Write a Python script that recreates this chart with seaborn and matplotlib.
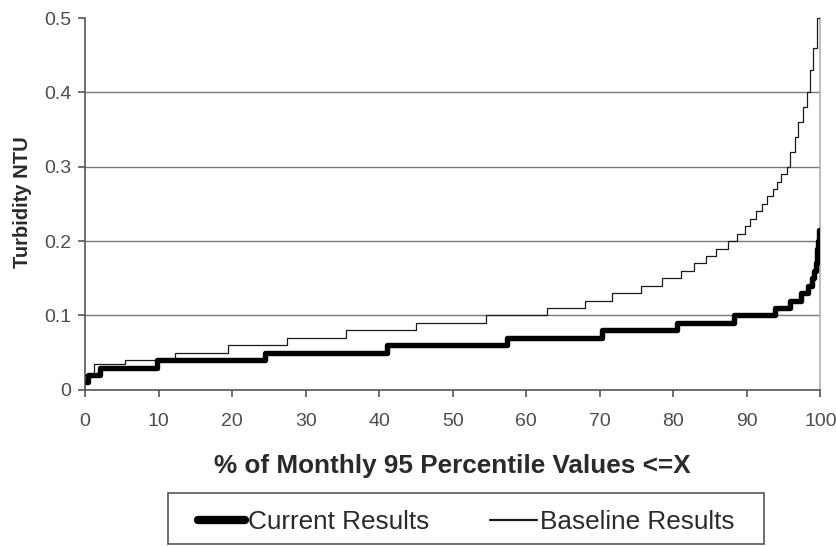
import numpy as np
import pandas as pd
import matplotlib
matplotlib.use("Agg")
import matplotlib.pyplot as plt
from matplotlib.patches import Rectangle
import seaborn as sns

# Cumulative step curves: each level (NTU) starts at the given percentile
current_levels = [0.01, 0.02, 0.03, 0.04, 0.05, 0.06, 0.07, 0.08, 0.09, 0.10,
                  0.11, 0.12, 0.13, 0.14, 0.15, 0.16, 0.17, 0.18, 0.19, 0.20, 0.215]
current_starts = [0.0, 0.4, 2.0, 9.8, 24.5, 41.0, 57.4, 70.3, 80.5, 88.2,
                  93.8, 95.9, 97.4, 98.3, 98.8, 99.2, 99.4, 99.5, 99.6, 99.7, 99.8]

baseline_levels = [0.02, 0.035, 0.04, 0.05, 0.06, 0.07, 0.08, 0.09, 0.10, 0.11,
                   0.12, 0.13, 0.14, 0.15, 0.16, 0.17, 0.18, 0.19, 0.20, 0.21,
                   0.22, 0.23, 0.24, 0.25, 0.26, 0.27, 0.28, 0.29, 0.30, 0.32,
                   0.34, 0.36, 0.38, 0.40, 0.43, 0.46, 0.50]
baseline_starts = [0.0, 1.2, 5.5, 12.3, 19.5, 27.5, 35.5, 45.0, 54.5, 62.8,
                   68.0, 71.6, 75.6, 78.5, 81.0, 82.8, 84.5, 85.8, 87.4, 88.6,
                   89.7, 90.5, 91.3, 92.1, 92.8, 93.5, 94.1, 94.7, 95.4, 95.9,
                   96.5, 97.0, 97.6, 98.2, 98.6, 99.0, 99.5]

x_ticks = [0, 10, 20, 30, 40, 50, 60, 70, 80, 90, 100]
y_ticks = [0, 0.1, 0.2, 0.3, 0.4, 0.5]
y_tick_labels = ["0", "0.1", "0.2", "0.3", "0.4", "0.5"]


def step_frame(starts, levels, name):
    xs = list(starts) + [100.0]
    ys = list(levels) + [levels[-1]]
    return pd.DataFrame({"pct": xs, "ntu": ys, "series": name})


df_cur = step_frame(current_starts, current_levels, "Current Results")
df_base = step_frame(baseline_starts, baseline_levels, "Baseline Results")

sns.set_style("white")
plt.rcParams["font.family"] = ["Liberation Sans", "DejaVu Sans"]

W, H = 837, 546
fig = plt.figure(figsize=(W / 100, H / 100), dpi=100)
ax = fig.add_axes([0.1016, 0.286, 0.8785, 0.681])

grid_col = "#7a7a7a"
for yv in y_ticks[1:-1]:
    ax.axhline(yv, color=grid_col, lw=1.0, zorder=0)

sns.lineplot(data=df_base, x="pct", y="ntu", ax=ax, color="#1a1a1a", lw=0.9,
             drawstyle="steps-post", estimator=None, sort=False,
             label="Baseline Results", legend=False, zorder=3)
sns.lineplot(data=df_cur, x="pct", y="ntu", ax=ax, color="black", lw=3.9,
             drawstyle="steps-post", estimator=None, sort=False,
             label="Current Results", legend=False, solid_capstyle="butt",
             zorder=4)

ax.set_xlim(0, 100)
ax.set_ylim(0, 0.5)
ax.set_xticks(x_ticks)
ax.set_yticks(y_ticks)
ax.set_yticklabels(y_tick_labels)
ax.tick_params(axis="both", which="major", left=True, bottom=True,
               direction="out", length=5, width=1.2, color="#555555",
               labelcolor="#4d4d4d", labelsize=14)
ax.tick_params(axis="x", pad=12)
ax.tick_params(axis="y", pad=5)

for side in ["left", "bottom"]:
    ax.spines[side].set_color("#555555")
    ax.spines[side].set_linewidth(1.2)
ax.spines["right"].set_color("#b0b0b0")
ax.spines["right"].set_linewidth(1.2)
ax.spines["top"].set_visible(False)

ax.set_xlabel("% of Monthly 95 Percentile Values <=X", fontsize=18.8,
              fontweight="bold", color="#2a2a2a")
ax.xaxis.set_label_coords(0.5, -0.172)
ax.set_ylabel("Turbidity NTU", fontsize=14.5, fontweight="bold",
              color="#2a2a2a")
ax.yaxis.set_label_coords(-0.072, 0.505)

handles, labels = ax.get_legend_handles_labels()
order = [labels.index("Current Results"), labels.index("Baseline Results")]
leg = fig.legend([handles[i] for i in order], [labels[i] for i in order],
                 loc="center", bbox_to_anchor=(0.557, 0.0437), ncol=2,
                 frameon=False, fontsize=18.8, handlelength=1.8,
                 handletextpad=0.12, columnspacing=2.3, borderpad=0.35,
                 borderaxespad=0)
leg.legend_handles[0].set_linewidth(6.0)
leg.legend_handles[0].set_solid_capstyle("round")
leg.legend_handles[1].set_linewidth(1.6)
for t in leg.get_texts():
    t.set_color("#2a2a2a")

# Legend border box
box_l, box_r, box_t, box_b = 168, 764, 493, 544
fig.patches.append(Rectangle((box_l / W, 1 - box_b / H), (box_r - box_l) / W,
                             (box_b - box_t) / H, transform=fig.transFigure,
                             fill=False, ec="#555555", lw=1.2))

fig.savefig("out.png", dpi=100, facecolor="white")
